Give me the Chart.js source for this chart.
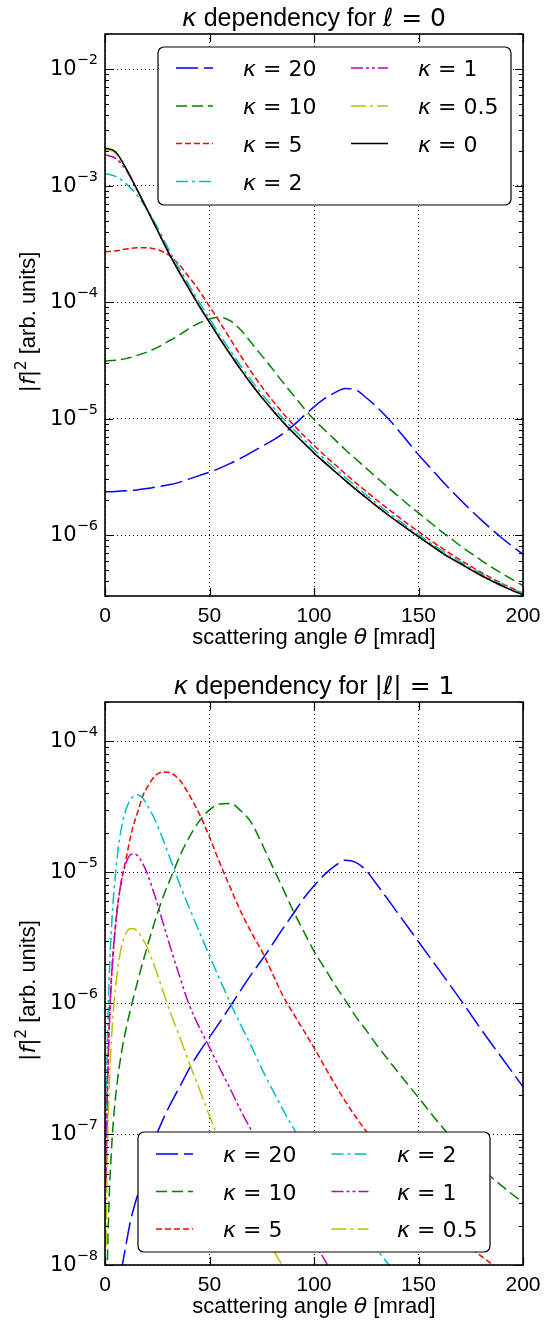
<!DOCTYPE html>
<html>
<head>
<meta charset="utf-8">
<script src="https://cdn.jsdelivr.net/npm/chart.js@4.4.0/dist/chart.umd.min.js"></script>
<style>
  body { margin: 0; background: #fff; }
  canvas { display: block; }
</style>
</head>
<body>
<canvas id="chartL0" width="555" height="660"></canvas>
<canvas id="chartL1" width="555" height="660"></canvas>
<script>
/*
DATA
*/
// scattering angle samples [mrad]
const thetaL0 = [0, 5, 10, 15, 20, 25, 30, 35, 40, 45, 50, 55, 60, 65, 70, 75, 80, 85, 90, 95,
  100, 105, 110, 115, 120, 125, 130, 135, 140, 145, 150, 155, 160, 165, 170, 175, 180, 185, 190, 195, 200];
const thetaL1 = [0.5, 1, 2, 3, 4, 6, 8, 10, 12, 14, 16, 18, 20, 24, 28, 32, 36, 40, 45, 50, 55, 60, 65,
  70, 75, 80, 85, 90, 95, 100, 105, 110, 115, 120, 125, 130, 140, 150, 160, 170, 180, 190, 200];

// kappa values shown in the legends
const kappaL0 = ['20', '10', '5', '2', '1', '0.5', '0'];
const kappaL1 = ['20', '10', '5', '2', '1', '0.5'];

// |f|^2 for l = 0
const k20L0 = [2.35e-6, 2.37e-6, 2.4e-6, 2.44e-6, 2.51e-6, 2.6e-6, 2.69e-6, 2.82e-6, 3.02e-6, 3.24e-6,
  3.47e-6, 3.76e-6, 4.12e-6, 4.57e-6, 5.13e-6, 5.75e-6, 6.46e-6, 7.4e-6, 8.7e-6, 1.05e-5,
  1.26e-5, 1.48e-5, 1.67e-5, 1.81e-5, 1.76e-5, 1.51e-5, 1.26e-5, 1.02e-5, 8.1e-6, 6.3e-6,
  4.9e-6, 3.9e-6, 3.1e-6, 2.48e-6, 2.01e-6, 1.64e-6, 1.35e-6, 1.12e-6, 9.4e-7, 8.0e-7, 6.84e-7];
const k10L0 = [3.12e-5, 3.16e-5, 3.27e-5, 3.47e-5, 3.72e-5, 4.07e-5, 4.57e-5, 5.13e-5, 5.9e-5, 6.6e-5,
  7.16e-5, 7.4e-5, 6.9e-5, 5.75e-5, 4.47e-5, 3.47e-5, 2.69e-5, 2.06e-5, 1.6e-5, 1.24e-5,
  9.8e-6, 8.0e-6, 6.6e-6, 5.4e-6, 4.5e-6, 3.74e-6, 3.12e-6, 2.6e-6, 2.18e-6, 1.83e-6,
  1.55e-6, 1.31e-6, 1.11e-6, 9.5e-7, 8.1e-7, 7.0e-7, 6.07e-7, 5.3e-7, 4.67e-7, 4.14e-7, 3.69e-7];
const k5L0 = [2.7e-4, 2.75e-4, 2.85e-4, 2.92e-4, 2.92e-4, 2.82e-4, 2.57e-4, 2.14e-4, 1.66e-4, 1.26e-4,
  9.2e-5, 6.7e-5, 4.8e-5, 3.45e-5, 2.52e-5, 1.88e-5, 1.44e-5, 1.12e-5, 8.9e-6, 7.2e-6,
  5.9e-6, 4.85e-6, 4.03e-6, 3.36e-6, 2.81e-6, 2.37e-6, 2.0e-6, 1.7e-6, 1.45e-6, 1.24e-6,
  1.07e-6, 9.2e-7, 8.0e-7, 6.98e-7, 6.12e-7, 5.4e-7, 4.78e-7, 4.27e-7, 3.84e-7, 3.48e-7, 3.17e-7];
const k2L0 = [1.27e-3, 1.2e-3, 1.04e-3, 8.4e-4, 6.3e-4, 4.4e-4, 2.95e-4, 2.02e-4, 1.42e-4, 1.0e-4,
  7.2e-5, 5.2e-5, 3.82e-5, 2.83e-5, 2.13e-5, 1.63e-5, 1.28e-5, 1.01e-5, 8.15e-6, 6.65e-6,
  5.43e-6, 4.5e-6, 3.74e-6, 3.13e-6, 2.62e-6, 2.21e-6, 1.87e-6, 1.59e-6, 1.36e-6, 1.17e-6,
  1.01e-6, 8.74e-7, 7.6e-7, 6.65e-7, 5.9e-7, 5.23e-7, 4.65e-7, 4.18e-7, 3.77e-7, 3.44e-7, 3.16e-7];
const k1L0 = [1.83e-3, 1.72e-3, 1.36e-3, 9.4e-4, 6.3e-4, 4.17e-4, 2.75e-4, 1.88e-4, 1.32e-4, 9.3e-5,
  6.7e-5, 4.84e-5, 3.55e-5, 2.63e-5, 1.98e-5, 1.52e-5, 1.19e-5, 9.4e-6, 7.6e-6, 6.2e-6,
  5.07e-6, 4.21e-6, 3.51e-6, 2.94e-6, 2.47e-6, 2.09e-6, 1.77e-6, 1.51e-6, 1.3e-6, 1.12e-6,
  9.7e-7, 8.4e-7, 7.3e-7, 6.4e-7, 5.7e-7, 5.05e-7, 4.5e-7, 4.05e-7, 3.66e-7, 3.34e-7, 3.07e-7];
const k05L0 = [2.05e-3, 1.9e-3, 1.4e-3, 9.5e-4, 6.3e-4, 4.17e-4, 2.75e-4, 1.88e-4, 1.32e-4, 9.3e-5,
  6.7e-5, 4.84e-5, 3.55e-5, 2.63e-5, 1.98e-5, 1.52e-5, 1.19e-5, 9.4e-6, 7.6e-6, 6.2e-6,
  5.07e-6, 4.21e-6, 3.51e-6, 2.94e-6, 2.47e-6, 2.09e-6, 1.77e-6, 1.51e-6, 1.3e-6, 1.12e-6,
  9.7e-7, 8.4e-7, 7.3e-7, 6.4e-7, 5.7e-7, 5.05e-7, 4.5e-7, 4.05e-7, 3.66e-7, 3.34e-7, 3.07e-7];
const k0L0 = [2.1e-3, 1.95e-3, 1.41e-3, 9.5e-4, 6.3e-4, 4.17e-4, 2.75e-4, 1.88e-4, 1.32e-4, 9.3e-5,
  6.7e-5, 4.84e-5, 3.55e-5, 2.63e-5, 1.98e-5, 1.52e-5, 1.19e-5, 9.4e-6, 7.6e-6, 6.2e-6,
  5.07e-6, 4.21e-6, 3.51e-6, 2.94e-6, 2.47e-6, 2.09e-6, 1.77e-6, 1.51e-6, 1.3e-6, 1.12e-6,
  9.7e-7, 8.4e-7, 7.3e-7, 6.4e-7, 5.7e-7, 5.05e-7, 4.5e-7, 4.05e-7, 3.66e-7, 3.34e-7, 3.07e-7];

// |f|^2 for |l| = 1
const k20L1 = [4e-11, 1.6e-10, 6.3e-10, 1.4e-9, 2.5e-9, 5.2e-9, 9.3e-9, 1.41e-8, 2.1e-8, 2.8e-8, 3.6e-8, 4.7e-8, 5.9e-8,
  9.3e-8, 1.32e-7, 1.78e-7, 2.34e-7, 3.1e-7,
  4.2e-7, 5.5e-7, 7.2e-7, 9.5e-7, 1.26e-6, 1.66e-6, 2.14e-6, 2.8e-6, 3.7e-6, 4.8e-6, 6.3e-6, 7.9e-6, 9.6e-6, 1.12e-5, 1.235e-5, 1.19e-5, 1.03e-5, 8.1e-6,
  4.9e-6, 2.95e-6, 1.78e-6, 1.07e-6, 6.3e-7, 3.8e-7, 2.3e-7];
const k10L1 = [2.0e-9, 7.9e-9, 3.2e-8, 7.1e-8, 1.26e-7, 2.6e-7, 4.3e-7, 6.3e-7, 8.7e-7, 1.17e-6, 1.55e-6, 2.04e-6, 2.63e-6,
  4.3e-6, 6.6e-6, 9.5e-6, 1.35e-5, 1.82e-5,
  2.45e-5, 3.0e-5, 3.33e-5, 3.36e-5, 2.95e-5, 2.4e-5, 1.66e-5, 1.12e-5, 7.6e-6, 5.1e-6, 3.55e-6, 2.5e-6, 1.86e-6, 1.38e-6, 1.05e-6, 7.9e-7, 6.2e-7, 4.8e-7,
  3.0e-7, 1.9e-7, 1.2e-7, 7.9e-8, 5.5e-8, 4.0e-8, 3.0e-8];
const k5L1 = [4.3e-8, 1.7e-7, 6.8e-7, 1.5e-6, 2.6e-6, 5.5e-6, 8.8e-6, 1.25e-5, 1.8e-5, 2.4e-5, 3.0e-5, 3.8e-5, 4.4e-5,
  5.45e-5, 5.85e-5, 5.7e-5, 5.0e-5, 3.98e-5,
  2.82e-5, 1.86e-5, 1.17e-5, 7.6e-6, 5.0e-6, 3.47e-6, 2.51e-6, 1.7e-6, 1.15e-6, 8.4e-7, 6.2e-7, 4.57e-7, 3.3e-7, 2.4e-7, 1.78e-7, 1.35e-7, 1.05e-7, 8.3e-8,
  5.0e-8, 3.2e-8, 2.1e-8, 1.55e-8, 1.17e-8, 8.9e-9, 6.8e-9];
const k2L1 = [1.0e-7, 4.0e-7, 1.58e-6, 3.5e-6, 6.3e-6, 1.38e-5, 2.24e-5, 3.0e-5, 3.55e-5, 3.85e-5, 3.9e-5, 3.7e-5, 3.3e-5,
  2.5e-5, 1.74e-5, 1.17e-5, 7.9e-6, 5.5e-6,
  3.55e-6, 2.3e-6, 1.51e-6, 1.0e-6, 6.8e-7, 4.7e-7, 3.16e-7, 2.2e-7, 1.55e-7, 1.12e-7, 8.3e-8, 6.3e-8, 4.8e-8, 3.6e-8, 2.8e-8, 2.2e-8, 1.7e-8, 1.32e-8,
  8.3e-9, 5.4e-9, 3.5e-9, 2.3e-9, 1.5e-9, 1.0e-9, 7e-10];
const k1L1 = [4.0e-8, 1.58e-7, 6.3e-7, 1.41e-6, 2.5e-6, 5.4e-6, 8.9e-6, 1.17e-5, 1.35e-5, 1.38e-5, 1.32e-5, 1.17e-5, 1.0e-5,
  6.5e-6, 4.0e-6, 2.45e-6, 1.55e-6, 1.0e-6,
  6.6e-7, 4.6e-7, 3.16e-7, 2.2e-7, 1.51e-7, 1.07e-7, 7.6e-8, 5.5e-8, 4.0e-8, 2.9e-8, 2.1e-8, 1.51e-8, 1.1e-8, 7.9e-9, 5.9e-9, 4.4e-9, 3.3e-9, 2.5e-9,
  1.4e-9, 8e-10, 4.5e-10, 2.6e-10, 1.5e-10, 9e-11, 5e-11];
const k05L1 = [1.41e-8, 5.6e-8, 2.24e-7, 5.0e-7, 8.9e-7, 1.78e-6, 2.75e-6, 3.4e-6, 3.7e-6, 3.7e-6, 3.47e-6, 3.1e-6, 2.7e-6,
  1.86e-6, 1.2e-6, 7.9e-7, 5.4e-7, 3.6e-7,
  2.24e-7, 1.38e-7, 8.7e-8, 5.8e-8, 3.9e-8, 2.7e-8, 1.9e-8, 1.35e-8, 9.8e-9, 7.1e-9, 5.2e-9, 3.8e-9, 2.8e-9, 2.0e-9, 1.5e-9, 1.1e-9, 8e-10, 6e-10,
  3.2e-10, 1.7e-10, 9e-11, 5e-11, 2.7e-11, 1.5e-11, 8e-12];

// axis ticks
const xTickValues = [0, 50, 100, 150, 200];
const yTicksL0 = [1e-6, 1e-5, 1e-4, 1e-3, 1e-2];
const yTicksL1 = [1e-8, 1e-7, 1e-6, 1e-5, 1e-4];

/*
STYLE
*/
const SANS = '"Liberation Sans", Arial, sans-serif';
const MATH = '"DejaVu Sans", sans-serif';
const COLORS = ['#0000ff', '#008000', '#ff0000', '#00bfbf', '#bf00bf', '#bfbf00', '#000000'];
const DASH = {
  '20': [22, 6],
  '10': [11, 5],
  '5': [6, 3],
  '2': [12, 4, 3, 4],
  '1': [12, 3, 3, 3, 3, 3],
  '0.5': [15, 4, 3, 4],
  '0': []
};

Chart.defaults.color = '#000';

function sans(px) { return px + 'px ' + SANS; }
function math(px) { return px + 'px ' + MATH; }
function ital(px) { return 'italic ' + px + 'px ' + MATH; }

//draws a row of text pieces that use different fonts
function drawParts(ctx, parts, x, y, align) {
  let w = 0;
  parts.forEach(p => { ctx.font = p.f; w += ctx.measureText(p.t).width; });
  let cx = align === 'center' ? x - w / 2 : (align === 'right' ? x - w : x);
  ctx.textAlign = 'left';
  ctx.textBaseline = 'alphabetic';
  parts.forEach(p => {
    ctx.font = p.f;
    ctx.fillText(p.t, cx, y + (p.dy || 0));
    cx += ctx.measureText(p.t).width;
  });
}

function kappaParts(v) {
  return [{ t: '\u03BA', f: ital(22) }, { t: ' = ' + v, f: math(22) }];
}

function roundBox(ctx, x, y, w, h, r) {
  ctx.beginPath();
  ctx.moveTo(x + r, y);
  ctx.lineTo(x + w - r, y);
  ctx.arcTo(x + w, y, x + w, y + r, r);
  ctx.lineTo(x + w, y + h - r);
  ctx.arcTo(x + w, y + h, x + w - r, y + h, r);
  ctx.lineTo(x + r, y + h);
  ctx.arcTo(x, y + h, x, y + h - r, r);
  ctx.lineTo(x, y + r);
  ctx.arcTo(x, y, x + r, y, r);
  ctx.closePath();
}

//major ticks at the listed decades plus 2..9 minors, kept inside min/max
function logTicks(majors, min, max) {
  const out = [];
  [majors[0] / 10].concat(majors).forEach(d => {
    for (let m = 1; m <= 9; m++) {
      const v = m * d;
      if (v >= min * 0.999 && v <= max * 1.001) {
        out.push({ value: v, major: m === 1 && majors.includes(d) });
      }
    }
  });
  return out;
}

//frame, inward ticks, y labels, titles and legend
function decor(o) {
  return {
    id: 'decor',
    afterDraw(chart) {
      const ctx = chart.ctx;
      const a = chart.chartArea;
      const x = chart.scales.x, y = chart.scales.y;
      ctx.save();
      ctx.strokeStyle = '#000';
      ctx.lineWidth = 1.2;
      ctx.beginPath();
      y.ticks.forEach(t => {
        const py = Math.round(y.getPixelForValue(t.value)) + 0.5;
        const len = t.major ? 8 : 4;
        ctx.moveTo(a.left, py); ctx.lineTo(a.left + len, py);
        ctx.moveTo(a.right - len, py); ctx.lineTo(a.right, py);
      });
      x.ticks.forEach(t => {
        const px = Math.round(x.getPixelForValue(t.value)) + 0.5;
        ctx.moveTo(px, a.top); ctx.lineTo(px, a.top + 8);
        ctx.moveTo(px, a.bottom - 8); ctx.lineTo(px, a.bottom);
      });
      ctx.stroke();
      ctx.lineWidth = 1.6;
      ctx.strokeRect(a.left, a.top, a.right - a.left, a.bottom - a.top);

      // y tick labels 10^n
      ctx.fillStyle = '#000';
      ctx.textAlign = 'left';
      ctx.textBaseline = 'alphabetic';
      y.ticks.filter(t => t.major).forEach(t => {
        const py = y.getPixelForValue(t.value);
        const exp = '\u2212' + Math.abs(Math.round(Math.log10(t.value)));
        ctx.font = math(14.5);
        const ew = ctx.measureText(exp).width;
        ctx.fillText(exp, a.left - 7 - ew, py - 5);
        ctx.font = math(21);
        const bw = ctx.measureText('10').width;
        ctx.fillText('10', a.left - 7 - ew - bw, py + 6);
      });

      // title
      drawParts(ctx, o.title, (a.left + a.right) / 2, a.top - 8, 'center');

      // x axis title
      drawParts(ctx, [
        { t: 'scattering angle ', f: sans(22) },
        { t: '\u03B8', f: ital(22) },
        { t: ' [mrad]', f: sans(22) }
      ], (a.left + a.right) / 2, a.bottom + 48, 'center');

      // y axis title, rotated
      ctx.save();
      ctx.translate(35, (a.top + a.bottom) / 2 + 7);
      ctx.rotate(-Math.PI / 2);
      drawParts(ctx, [
        { t: '|', f: math(22) },
        { t: 'f', f: ital(22) },
        { t: '|', f: math(22) },
        { t: '2', f: math(15), dy: -9 },
        { t: ' [arb. units]', f: sans(22) }
      ], 0, 0, 'center');
      ctx.restore();

      // legend
      const lg = o.legend;
      roundBox(ctx, lg.x, lg.y, lg.w, lg.h, 6);
      ctx.fillStyle = '#fff';
      ctx.fill();
      ctx.lineWidth = 1.2;
      ctx.strokeStyle = '#000';
      ctx.stroke();
      chart.data.datasets.forEach((ds, i) => {
        const col = Math.floor(i / lg.rows), row = i % lg.rows;
        const cy = lg.rowY[row];
        const x0 = lg.lineX[col];
        ctx.setLineDash(ds.borderDash);
        ctx.strokeStyle = ds.borderColor;
        ctx.lineWidth = 1.5;
        ctx.beginPath();
        ctx.moveTo(x0, cy);
        ctx.lineTo(x0 + 37, cy);
        ctx.stroke();
        ctx.setLineDash([]);
        ctx.fillStyle = '#000';
        drawParts(ctx, kappaParts(ds.label), lg.textX[col], cy + 8, 'left');
      });
      ctx.restore();
    }
  };
}

function makeChart(canvasId, o) {
  const datasets = o.labels.map((lab, i) => ({
    label: lab,
    data: o.theta.map((t, j) => ({ x: t, y: o.values[i][j] })),
    borderColor: COLORS[i],
    borderDash: DASH[lab],
    borderWidth: 1.5,
    pointRadius: 0,
    fill: false,
    cubicInterpolationMode: 'monotone',
    order: o.labels.length - i
  }));
  return new Chart(document.getElementById(canvasId), {
    type: 'line',
    data: { datasets: datasets },
    options: {
      responsive: false,
      animation: false,
      events: [],
      layout: { padding: { top: o.top, right: 32, left: 0, bottom: 0 } },
      plugins: {
        legend: { display: false },
        tooltip: { enabled: false },
        title: { display: false }
      },
      scales: {
        x: {
          type: 'linear',
          min: 0,
          max: 200,
          afterBuildTicks: s => { s.ticks = xTickValues.map(v => ({ value: v })); },
          afterFit: s => { s.height = o.xHeight; },
          grid: { color: '#000', lineWidth: 1, drawTicks: false },
          border: { display: false, dash: [1, 3] },
          ticks: { font: { family: SANS, size: 21 }, color: '#000', padding: 8, maxRotation: 0, autoSkip: false }
        },
        y: {
          type: 'logarithmic',
          min: o.yMin,
          max: o.yMax,
          afterBuildTicks: s => { s.ticks = logTicks(o.yTicks, o.yMin, o.yMax); },
          afterFit: s => { s.width = 105; },
          grid: {
            color: c => (c.tick && c.tick.major) ? '#000' : 'rgba(0,0,0,0)',
            lineWidth: 1,
            drawTicks: false
          },
          border: { display: false, dash: [1, 3] },
          ticks: { display: false, autoSkip: false }
        }
      }
    },
    plugins: [decor(o)]
  });
}

const chartL0 = makeChart('chartL0', {
  theta: thetaL0,
  labels: kappaL0,
  values: [k20L0, k10L0, k5L0, k2L0, k1L0, k05L0, k0L0],
  yMin: 3e-7,
  yMax: 2e-2,
  yTicks: yTicksL0,
  top: 34,
  xHeight: 64,
  title: [
    { t: '\u03BA', f: ital(25) },
    { t: ' dependency for ', f: sans(25) },
    { t: '\u2113', f: ital(25) },
    { t: ' = 0', f: math(25) }
  ],
  legend: { x: 158, y: 47, w: 353, h: 158, rows: 4, rowY: [68, 106, 143.5, 181.5], lineX: [176, 351], textX: [243, 418] }
});

const chartL1 = makeChart('chartL1', {
  theta: thetaL1,
  labels: kappaL1,
  values: [k20L1, k10L1, k5L1, k2L1, k1L1, k05L1],
  yMin: 1e-8,
  yMax: 2e-4,
  yTicks: yTicksL1,
  top: 42,
  xHeight: 55,
  title: [
    { t: '\u03BA', f: ital(25) },
    { t: ' dependency for ', f: sans(25) },
    { t: '|', f: math(25) },
    { t: '\u2113', f: ital(25) },
    { t: '|', f: math(25) },
    { t: ' = 1', f: math(25) }
  ],
  legend: { x: 138, y: 472, w: 352, h: 120, rows: 3, rowY: [494, 531.5, 569], lineX: [156, 331.5], textX: [223, 397] }
});
</script>
</body>
</html>
